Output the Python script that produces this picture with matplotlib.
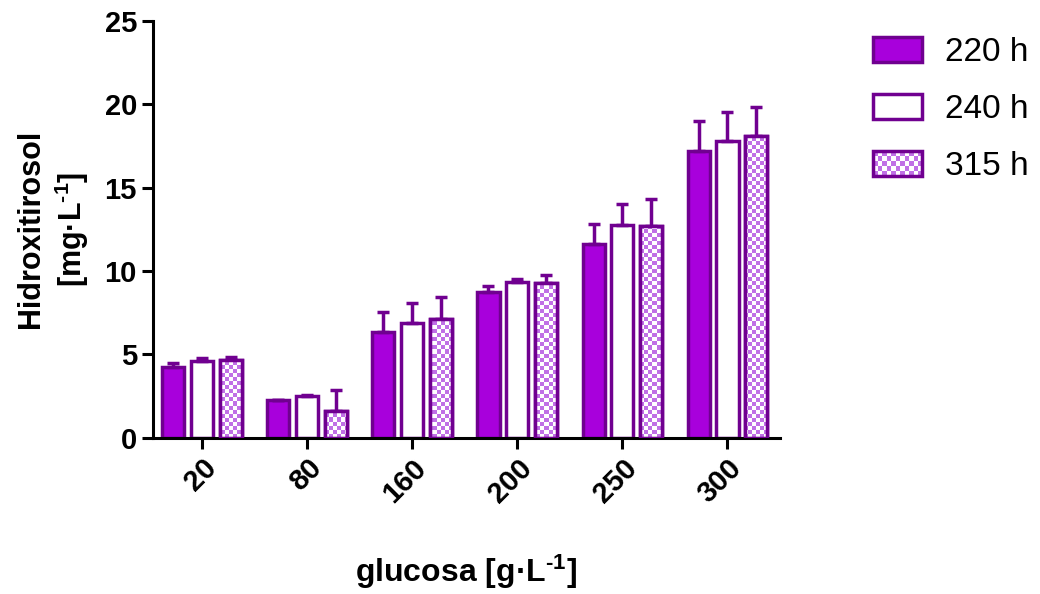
import matplotlib
matplotlib.use("Agg")
import matplotlib.pyplot as plt
from matplotlib.legend_handler import HandlerBase
from matplotlib.patches import Patch, Rectangle
import numpy as np

plt.rcParams['font.family'] = ['Liberation Sans', 'DejaVu Sans']
plt.rcParams['mathtext.fontset'] = 'custom'
plt.rcParams['mathtext.bf'] = 'Liberation Sans:bold'
plt.rcParams['mathtext.rm'] = 'Liberation Sans:bold'
plt.rcParams['mathtext.default'] = 'bf'

# datos
glucosa = ["20", "80", "160", "200", "250", "300"]
series = ["220 h", "240 h", "315 h"]
media_220 = [4.26, 2.24, 6.37, 8.73, 11.63, 17.2]
media_240 = [4.6, 2.48, 6.87, 9.31, 12.77, 17.8]
media_315 = [4.68, 1.58, 7.11, 9.27, 12.67, 18.07]
err_220 = [0.24, 0.03, 1.2, 0.34, 1.2, 1.8]
err_240 = [0.2, 0.1, 1.2, 0.2, 1.23, 1.76]
err_315 = [0.19, 1.3, 1.36, 0.5, 1.66, 1.76]

borde = "#700090"
relleno = "#A800DC"
cuadro = "#C070E6"


class HandlerTablero(HandlerBase):
    # dibuja el cuadro de leyenda con patron de tablero
    def create_artists(self, legend, orig_handle, xdescent, ydescent, width, height, fontsize, trans):
        artistas = []
        nx, ny = 11, 5
        dx, dy = width / nx, height / ny
        fondo = Rectangle((-xdescent, -ydescent), width, height, facecolor="white",
                          edgecolor="none", transform=trans)
        artistas.append(fondo)
        for i in range(nx):
            for j in range(ny):
                if (i + j) % 2 == 0:
                    artistas.append(Rectangle((-xdescent + i * dx, -ydescent + j * dy), dx, dy,
                                              facecolor=cuadro, edgecolor="none", transform=trans))
        artistas.append(Rectangle((-xdescent, -ydescent), width, height, fill=False,
                                  edgecolor=borde, linewidth=2.5, transform=trans))
        return artistas


fig = plt.figure(figsize=(10.4, 5.94), dpi=100)
ax = fig.add_axes([0.147, 0.263, 0.603, 0.702])

x = np.arange(len(glucosa))
ancho = 0.21
paso = 0.275
ekw = dict(ecolor=borde, elinewidth=2.5, capsize=4, capthick=2.5)

b1 = ax.bar(x - paso, media_220, ancho, color=relleno, edgecolor=borde, linewidth=2.5,
            yerr=[np.zeros(6), err_220], error_kw=ekw, zorder=2)
b2 = ax.bar(x, media_240, ancho, color="white", edgecolor=borde, linewidth=2.5,
            yerr=[np.zeros(6), err_240], error_kw=ekw, zorder=2)
b3 = ax.bar(x + paso, media_315, ancho, color="white", edgecolor=borde, linewidth=2.5,
            yerr=[np.zeros(6), err_315], error_kw=ekw, zorder=2)

ax.set_xlim(-0.47, 5.5)
ax.set_ylim(0, 25)

# patron de cuadritos para 315 h
xmin, xmax = ax.get_xlim()
nx, ny = 157, 104
tablero = (np.add.outer(np.arange(ny), np.arange(nx)) % 2)
cmap = matplotlib.colors.ListedColormap(["white", cuadro])
for barra in b3:
    im = ax.imshow(tablero, cmap=cmap, extent=[xmin, xmax, 0, 25], aspect='auto',
                   interpolation='nearest', zorder=2.5)
    im.set_clip_path(barra)
    ax.add_patch(Rectangle(barra.get_xy(), barra.get_width(), barra.get_height(),
                           fill=False, edgecolor=borde, linewidth=2.5, zorder=3))
ax.set_xlim(xmin, xmax)
ax.set_ylim(0, 25)

ax.set_xticks(x)
ax.set_xticklabels(glucosa, rotation=45, ha='right', rotation_mode='anchor',
                   fontsize=21, fontweight='bold')
ax.set_yticks([0, 5, 10, 15, 20, 25])
ax.set_yticklabels(["0", "5", "10", "15", "20", "25"], fontsize=21, fontweight='bold')
ax.tick_params(width=2.2, length=8, direction='out')
for lado in ["top", "right"]:
    ax.spines[lado].set_visible(False)
for lado in ["left", "bottom"]:
    ax.spines[lado].set_linewidth(2.2)

ax.set_ylabel("Hidroxitirosol\n[mg·L$^{\\text{-1}}$]", fontsize=22, fontweight='bold', labelpad=10)
ax.set_xlabel("glucosa [g·L$^{\\text{-1}}$]", fontsize=23, fontweight='bold', labelpad=32)

# leyenda
h1 = Patch(facecolor=relleno, edgecolor=borde, linewidth=2.5)
h2 = Patch(facecolor="white", edgecolor=borde, linewidth=2.5)
h3 = Patch(facecolor="white", edgecolor=borde, linewidth=2.5)
fig.legend([h1, h2, h3], series, loc='upper left', bbox_to_anchor=(0.811, 0.989),
           frameon=False, fontsize=24, handlelength=1.47, handleheight=0.78,
           labelspacing=0.78, handletextpad=0.69, handler_map={h3: HandlerTablero()})

fig.savefig("out.png", dpi=100)
